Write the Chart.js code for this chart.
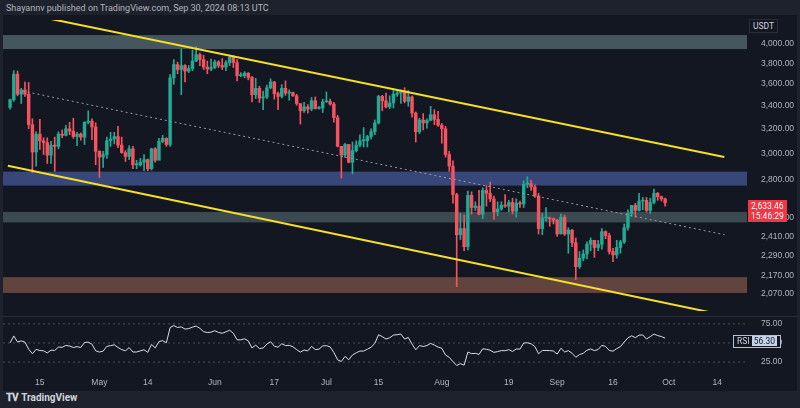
<!DOCTYPE html>
<html>
<head>
<meta charset="utf-8">
<script src="https://cdn.jsdelivr.net/npm/chart.js@4.4.1/dist/chart.umd.min.js"></script>
<style>
  body { margin:0; background:#1e222d; width:800px; height:408px; overflow:hidden; font-family: Roboto, "Noto Sans", sans-serif; }
  #head { position:absolute; left:6px; top:3px; color:#b2b5be; font-size:9px; }
  #foot { position:absolute; left:6px; top:392px; color:#d1d4dc; font-size:10px; font-weight:bold; }
  #frame { position:absolute; left:3px; top:15px; width:794px; height:376px; background:#131722; }
  #sep { position:absolute; left:3px; top:316px; width:794px; height:1px; background:#2a2e39; }
  #pc { position:absolute; left:3px; top:9px; }
  #rc { position:absolute; left:3px; top:311px; }
  .tag { position:absolute; font-size:8.5px; color:#fff; padding:1px 3px; }
</style>
</head>
<body>
<div id="head">Shayannv published on TradingView.com, Sep 30, 2024 08:13 UTC</div>
<div id="frame"></div>
<div id="sep"></div>
<canvas id="pc" width="794" height="313"></canvas>
<canvas id="rc" width="794" height="77"></canvas>
<div class="tag" style="left:749px;top:19px;color:#d1d4dc;border:1px solid #2a2e39;background:#131722">USDT</div>
<div class="tag" style="left:748px;top:200px;background:#f23645;line-height:10px">2,633.46<br>15:46:29</div>
<div class="tag" style="left:733px;top:335px;background:#131722;color:#d1d4dc;border:1px solid #b2c0d8;line-height:9px">RSI <span style="background:#c5d3ea;color:#131722;padding:0 2px">56.30</span></div>
<div id="foot">𝐓𝐕 TradingView</div>
<script>
// day index 0 = Apr 15, first candle Apr 7
const firstDay = -8;
const firstOpen = 3385;
const closes = [3455,3695,3505,3545,3505,3235,3010,3155,3100,3085,2985,3065,3055,3155,3145,3200,3180,3135,3155,3130,3255,3265,3215,3015,
 2970,2990,3100,3115,3135,3065,3005,2975,3035,2910,2910,2930,2950,2880,3035,2945,3095,3120,3070,3660,3790,3740,3780,3725,3750,3825,3890,3840,3765,3745,3760,
 3815,3780,3765,3810,3865,3810,3680,3680,3705,3665,3500,3560,3470,3480,3565,3620,3510,3485,3560,3515,3520,3490,3420,3355,3390,3370,3445,3375,3380,3435,
 3440,3415,3295,3055,2985,3070,2930,3020,3065,3100,3100,3135,3175,3250,3485,3445,3390,3425,3505,3515,3535,3440,3480,3335,3175,3275,3250,3270,3320,3280,3230,
 3200,2990,2900,2690,2420,2460,2345,2685,2600,2610,2555,2720,2700,2660,2570,2590,2615,2610,2635,2575,2630,2625,2765,2770,2745,2680,2460,2530,2530,2525,2515,
 2425,2535,2425,2450,2370,2225,2275,2300,2360,2385,2340,2360,2440,2415,2315,2295,2340,2375,2465,2560,2615,2580,2645,2650,2580,2635,2700,2675,2660,2633];
const highs = [3460,3730,3725,3560,3620,3615,3285,3175,3280,3125,3125,3095,3130,3175,3190,3230,3255,3290,3170,3165,3260,3355,3285,3250,
 3020,3015,3130,3170,3170,3220,3130,3020,3060,3055,2945,2960,2990,2955,3040,3045,3120,3145,3125,3690,3840,3815,3950,3790,3780,3935,3975,3905,3885,3825,3845,
 3835,3830,3850,3830,3885,3880,3840,3710,3720,3710,3675,3655,3580,3535,3590,3650,3625,3525,3595,3630,3545,3525,3505,3410,3430,3410,3475,3480,3395,3460,
 3525,3460,3430,3315,3055,3080,3070,3090,3100,3150,3210,3145,3200,3275,3495,3495,3515,3490,3540,3540,3545,3565,3540,3490,3345,3290,3330,3285,3395,3365,3350,
 3245,3220,3015,2940,2700,2560,2550,2715,2710,2640,2720,2740,2755,2780,2680,2640,2640,2690,2650,2665,2660,2645,2790,2820,2795,2760,2700,2560,2600,2535,2530,
 2520,2555,2550,2465,2455,2400,2315,2325,2375,2400,2385,2385,2460,2445,2430,2335,2385,2385,2490,2585,2615,2630,2700,2670,2670,2665,2730,2705,2680,2665];
const lows = [3370,3440,3490,3420,3485,3200,2850,2900,3030,2990,2920,2920,2860,3035,3125,3140,3150,3120,3060,3105,3070,3240,3110,2910,
 2815,2890,2960,3055,3075,3045,3000,2935,2950,2880,2880,2900,2865,2865,2870,2930,2950,3085,3055,3055,3600,3700,3500,3620,3710,3730,3820,3780,3740,3700,3730,
 3750,3760,3740,3730,3780,3760,3630,3670,3660,3640,3435,3465,3430,3365,3465,3555,3460,3365,3470,3495,3450,3485,3405,3240,3340,3335,3355,3370,3370,3340,
 3430,3405,3255,3050,2810,2965,2925,2840,3010,3050,3050,3050,3115,3150,3240,3355,3380,3375,3380,3485,3420,3425,3395,3300,3090,3160,3190,3205,3310,3235,3220,
 3080,2970,2860,2630,2110,2390,2320,2325,2555,2580,2550,2525,2610,2640,2520,2545,2580,2600,2570,2555,2535,2600,2600,2740,2720,2670,2425,2420,2510,2475,2490,
 2410,2425,2415,2305,2345,2150,2215,2260,2270,2320,2280,2320,2330,2395,2300,2255,2275,2305,2365,2450,2540,2535,2575,2585,2570,2560,2625,2650,2645,2610];
const tickDays = [0,16,29,47,63,77,91,108,126,139,154,169,182];
const tickLabels = ['15','May','14','Jun','17','Jul','15','Aug','19','Sep','16','Oct','14'];
const priceTicks = [4000,3800,3600,3400,3200,3000,2800,2530,2410,2290,2170,2070];
const rsiTicks = [75,50,25];
// horizontal zones [low, high]
const zones = [[3948,4096,'rgba(88,108,116,0.75)'],[2755,2858,'rgba(62,80,138,0.85)'],[2500,2570,'rgba(70,86,94,0.8)'],[2076,2164,'rgba(112,76,66,0.85)']];
// drawn lines [day, price]
const upperLine = [[-0.8,4306],[183.9,2971]];
const lowerLine = [[-8.6,2903],[182,1965]];
const midLine = [[-4.6,3534],[184,2420]];

const opens = closes.map((c,i) => i === 0 ? firstOpen : closes[i-1]);
const days = closes.map((c,i) => firstDay + i);
const up = closes.map((c,i) => c >= opens[i]);
const UP = '#22ab94', DN = '#f7525f';

// RSI (Wilder, 14)
const rsi = [];
let ag = 0, al = 0;
closes.forEach((c,i) => {
  const d = c - opens[i];
  const g = Math.max(d,0), l = Math.max(-d,0);
  if (i === 0) { ag = 40; al = 45; }
  ag = (ag*13 + g)/14; al = (al*13 + l)/14;
  rsi.push(100 - 100/(1 + ag/al));
});

const xMin = -9.9, xMax = 190;
const fitRight = s => { s.width = 50; };

const zonePlugin = {
  id: 'zones',
  beforeDatasetsDraw(chart) {
    const {ctx, chartArea:a, scales:{y}} = chart;
    zones.forEach(z => {
      const t = y.getPixelForValue(z[1]), b = y.getPixelForValue(z[0]);
      ctx.fillStyle = z[2];
      ctx.fillRect(a.left, t, a.right - a.left, b - t);
    });
  }
};

const pts = arr => arr.map(p => ({x:p[0], y:p[1]}));
const lineDs = (arr, color, dash, w) => ({type:'line', data:pts(arr), borderColor:color, borderWidth:w, borderDash:dash, pointRadius:0, order:0});

new Chart(document.getElementById('pc'), {
  type: 'bar',
  plugins: [zonePlugin],
  data: {
    datasets: [
      lineDs(upperLine, '#f5e025', [], 2),
      lineDs(lowerLine, '#f5e025', [], 2),
      lineDs(midLine, '#9598a1', [2,3], 1),
      { data: days.map((d,i) => ({x:d, y:[lows[i], highs[i]]})), backgroundColor: up.map(u => u ? UP : DN), barThickness: 1, grouped:false, order:2 },
      { data: days.map((d,i) => ({x:d, y:[opens[i], closes[i]]})), backgroundColor: up.map(u => u ? UP : DN), barThickness: 2.8, minBarLength: 1, grouped:false, order:1 }
    ]
  },
  options: {
    responsive:false, animation:false,
    layout:{padding:0},
    plugins:{legend:{display:false}, tooltip:{enabled:false}},
    scales: {
      x: { type:'linear', min:xMin, max:xMax, offset:false, display:false },
      y: { type:'logarithmic', position:'right', min:1980, max:4261,
        afterFit: fitRight,
        afterBuildTicks: s => { s.ticks = priceTicks.map(v => ({value:v})); },
        grid:{display:false}, border:{display:false},
        ticks:{ color:'#b2b5be', font:{size:8.5}, padding:6, callback: v => v.toLocaleString('en-US',{minimumFractionDigits:2}) } }
    }
  }
});

const guidePlugin = {
  id: 'guides',
  beforeDatasetsDraw(chart) {
    const {ctx, chartArea:a, scales:{y}} = chart;
    ctx.save();
    ctx.strokeStyle = '#4a4e59'; ctx.setLineDash([2,3]); ctx.lineWidth = 1;
    rsiTicks.forEach(v => { const p = y.getPixelForValue(v); ctx.beginPath(); ctx.moveTo(a.left, p); ctx.lineTo(a.right, p); ctx.stroke(); });
    ctx.restore();
  }
};

new Chart(document.getElementById('rc'), {
  type: 'line',
  plugins: [guidePlugin],
  data: { datasets: [{ data: days.map((d,i) => ({x:d, y:rsi[i]})), borderColor:'#d8dde8', borderWidth:1, pointRadius:0, tension:0 }] },
  options: {
    responsive:false, animation:false,
    layout:{padding:0},
    plugins:{legend:{display:false}, tooltip:{enabled:false}},
    scales: {
      x: { type:'linear', min:xMin, max:xMax,
        afterFit: s => { s.height = 12; },
        afterBuildTicks: s => { s.ticks = tickDays.map(v => ({value:v})); },
        grid:{display:false, drawTicks:false}, border:{display:false},
        ticks:{ color:'#b2b5be', font:{size:8.5}, padding:2, maxRotation:0, autoSkip:false, callback: v => tickLabels[tickDays.indexOf(v)] } },
      y: { position:'right', min:6.8, max:77.3,
        afterFit: fitRight,
        afterBuildTicks: s => { s.ticks = rsiTicks.map(v => ({value:v})); },
        grid:{display:false}, border:{display:false},
        ticks:{ color:'#b2b5be', font:{size:8.5}, padding:6, callback: v => v.toFixed(2) } }
    }
  }
});
</script>
</body>
</html>
